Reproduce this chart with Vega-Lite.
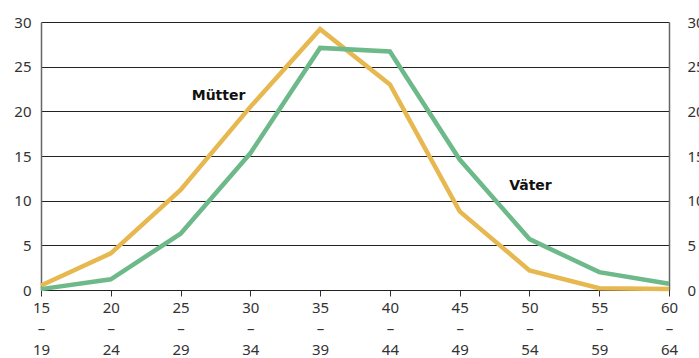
{
  "$schema": "https://vega.github.io/schema/vega-lite/v6.json",
  "width": 628,
  "height": 268,
  "autosize": {"type": "none"},
  "padding": {"left": 41, "top": 22, "right": 30, "bottom": 68},
  "background": "white",
  "config": {
    "view": {"stroke": null},
    "font": "Noto Sans"
  },
  "datasets": {
    "main": [
      {"age": "15–19", "group": "Mütter", "value": 0.5},
      {"age": "20–24", "group": "Mütter", "value": 4.1},
      {"age": "25–29", "group": "Mütter", "value": 11.2},
      {"age": "30–34", "group": "Mütter", "value": 20.5},
      {"age": "35–39", "group": "Mütter", "value": 29.2},
      {"age": "40–44", "group": "Mütter", "value": 23.0},
      {"age": "45–49", "group": "Mütter", "value": 8.8},
      {"age": "50–54", "group": "Mütter", "value": 2.2},
      {"age": "55–59", "group": "Mütter", "value": 0.2},
      {"age": "60–64", "group": "Mütter", "value": 0.1},
      {"age": "15–19", "group": "Väter", "value": 0.1},
      {"age": "20–24", "group": "Väter", "value": 1.2},
      {"age": "25–29", "group": "Väter", "value": 6.3},
      {"age": "30–34", "group": "Väter", "value": 15.3},
      {"age": "35–39", "group": "Väter", "value": 27.1},
      {"age": "40–44", "group": "Väter", "value": 26.7},
      {"age": "45–49", "group": "Väter", "value": 14.6},
      {"age": "50–54", "group": "Väter", "value": 5.7},
      {"age": "55–59", "group": "Väter", "value": 2.0},
      {"age": "60–64", "group": "Väter", "value": 0.7}
    ],
    "labelM": [
      {"age": "25–29", "group": "Mütter", "value": 21.7}
    ],
    "labelV": [
      {"age": "50–54", "group": "Väter", "value": 11.6}
    ]
  },
  "encoding": {
    "x": {
      "field": "age",
      "type": "ordinal",
      "scale": {"type": "point", "padding": 0},
      "sort": null,
      "axis": {
        "title": null,
        "labelAngle": 0,
        "labelExpr": "[slice(datum.label,0,2),'–',slice(datum.label,3)]",
        "labelLineHeight": 21,
        "labelFontSize": 15,
        "labelColor": "#333333",
        "labelPadding": 4,
        "tickSize": 6,
        "tickColor": "#333333",
        "domainColor": "#222222",
        "grid": false
      }
    }
  },
  "layer": [
    {
      "data": {"name": "main"},
      "mark": {"type": "line", "strokeWidth": 4.5, "strokeJoin": "miter"},
      "encoding": {
        "y": {
          "field": "value",
          "type": "quantitative",
          "scale": {"domain": [0, 30]},
          "axis": {
            "title": null,
            "orient": "left",
            "values": [0, 5, 10, 15, 20, 25, 30],
            "grid": true,
            "gridColor": "#222222",
            "gridWidth": 1,
            "gridOpacity": 1,
            "ticks": false,
            "labelPadding": 10,
            "labelFontSize": 15,
            "labelColor": "#333333",
            "domainColor": "#666666",
            "domainWidth": 1.5
          }
        },
        "color": {
          "field": "group",
          "type": "nominal",
          "scale": {"domain": ["Mütter", "Väter"], "range": ["#E6B84F", "#6DB98A"]},
          "legend": null
        }
      }
    },
    {
      "data": {"name": "labelM"},
      "mark": {"type": "text", "fontSize": 14, "fontWeight": "bold", "color": "#111111", "font": "DejaVu Sans", "dx": 38},
      "encoding": {
        "y": {
          "field": "value",
          "type": "quantitative",
          "scale": {"domain": [0, 30]},
          "axis": {
            "title": null,
            "orient": "right",
            "values": [0, 5, 10, 15, 20, 25, 30],
            "grid": false,
            "ticks": false,
            "labelPadding": 18,
            "labelFontSize": 15,
            "labelColor": "#333333",
            "domainColor": "#666666",
            "domainWidth": 1.5
          }
        },
        "text": {"field": "group"}
      }
    },
    {
      "data": {"name": "labelV"},
      "mark": {"type": "text", "fontSize": 14, "fontWeight": "bold", "color": "#111111", "font": "DejaVu Sans", "dx": 1},
      "encoding": {
        "y": {
          "field": "value",
          "type": "quantitative",
          "scale": {"domain": [0, 30]},
          "axis": null
        },
        "text": {"field": "group"}
      }
    }
  ],
  "resolve": {"axis": {"y": "independent"}}
}
